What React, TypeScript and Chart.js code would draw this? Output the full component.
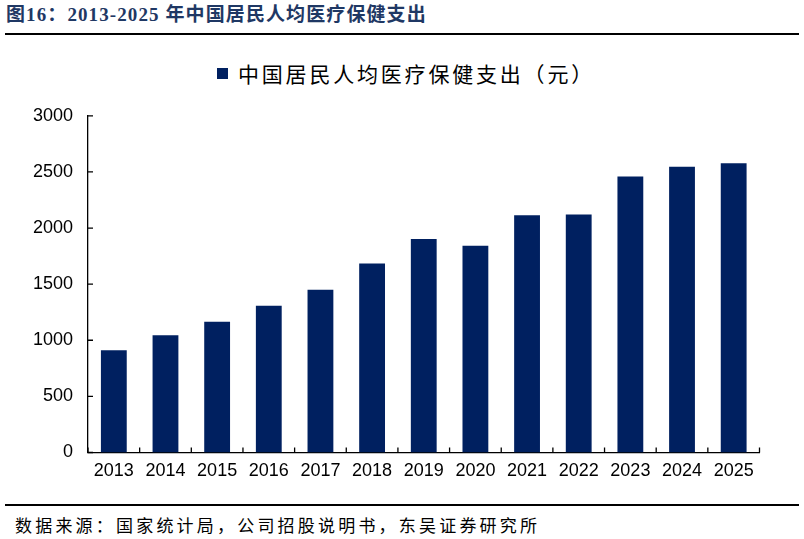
import { useEffect, useRef } from "react";
import { Chart, registerables } from "chart.js";

Chart.register(...registerables);

// Per-capita health care spending of Chinese residents, yuan
const years = ["2013", "2014", "2015", "2016", "2017", "2018", "2019", "2020", "2021", "2022", "2023", "2024", "2025"];
const healthSpending = [912, 1045, 1165, 1307, 1451, 1685, 1902, 1843, 2115, 2120, 2460, 2547, 2577];
const yTickValues = [0, 500, 1000, 1500, 2000, 2500, 3000];

const titleText = "图16：2013-2025 年中国居民人均医疗保健支出";
const seriesName = "中国居民人均医疗保健支出（元）";
const sourceText = "数据来源：国家统计局，公司招股说明书，东吴证券研究所";

const BAR_COLOR = "#002060";
const AXIS_FONT = '"Liberation Sans", Arial, sans-serif';
const CJK_FONT = '"Noto Sans CJK SC", "Noto Sans", sans-serif';

// Short tick marks pointing into the plot area, on both axes
const inwardTicks = {
  id: "inwardTicks",
  afterDraw(chart: any) {
    const { ctx, scales } = chart;
    const x = scales.x;
    const y = scales.y;
    ctx.save();
    ctx.strokeStyle = "#000";
    ctx.lineWidth = 1.3;
    ctx.beginPath();
    yTickValues.forEach((v) => {
      const py = y.getPixelForValue(v);
      ctx.moveTo(x.left, py);
      ctx.lineTo(x.left + 5, py);
    });
    const step = x.getPixelForValue(1) - x.getPixelForValue(0);
    const start = x.getPixelForValue(0) - step / 2;
    for (let i = 0; i <= years.length; i++) {
      const px = start + i * step;
      ctx.moveTo(px, y.bottom);
      ctx.lineTo(px, y.bottom - 5);
    }
    ctx.stroke();
    ctx.restore();
  },
};

function SpendingChart() {
  const canvasRef = useRef<HTMLCanvasElement | null>(null);

  useEffect(() => {
    const canvas = canvasRef.current;
    if (!canvas) return;
    const chart = new Chart(canvas, {
      type: "bar",
      data: {
        labels: years,
        datasets: [
          {
            label: seriesName,
            data: healthSpending,
            backgroundColor: BAR_COLOR,
            borderWidth: 0,
            categoryPercentage: 0.5,
            barPercentage: 1,
          },
        ],
      },
      options: {
        animation: false,
        responsive: false,
        devicePixelRatio: 1,
        layout: { padding: { top: 24.7, right: 44.5, left: 0, bottom: 0 } },
        plugins: {
          legend: { display: false },
          tooltip: { enabled: false },
        },
        scales: {
          x: {
            type: "category",
            grid: { display: false, drawTicks: false },
            border: { display: true, color: "#000", width: 1.3 },
            ticks: {
              color: "#000",
              font: { family: AXIS_FONT, size: 18 },
              padding: 8,
              maxRotation: 0,
              autoSkip: false,
            },
            afterFit: (scale: any) => {
              scale.height = 37.5;
            },
          },
          y: {
            min: 0,
            max: 3000,
            grid: { display: false, drawTicks: false },
            border: { display: true, color: "#000", width: 1.3 },
            ticks: {
              stepSize: 500,
              color: "#000",
              font: { family: AXIS_FONT, size: 18 },
              padding: 15,
              callback: (value: any) => String(value),
            },
            afterFit: (scale: any) => {
              scale.width = 88;
            },
          },
        },
      },
      plugins: [inwardTicks],
    });
    return () => chart.destroy();
  }, []);

  return <canvas ref={canvasRef} width={804} height={400} style={{ width: 804, height: 400, display: "block" }} />;
}

export default function App() {
  return (
    <div
      style={{
        position: "absolute",
        left: 0,
        top: 0,
        width: 804,
        height: 539,
        background: "#fff",
        overflow: "hidden",
      }}
    >
      <div
        style={{
          position: "absolute",
          left: 6,
          top: 4,
          fontFamily: '"Liberation Serif", "Times New Roman", ' + CJK_FONT,
          fontWeight: 700,
          fontSize: 19,
          lineHeight: "22px",
          letterSpacing: "1.1px",
          color: "#1F3864",
          whiteSpace: "nowrap",
        }}
      >
        {titleText}
      </div>
      <div style={{ position: "absolute", left: 5, top: 33, width: 794, height: 2, background: "#000" }} />

      <div
        style={{
          position: "absolute",
          left: 217,
          top: 62,
          height: 23,
          display: "flex",
          alignItems: "center",
          whiteSpace: "nowrap",
        }}
      >
        <span style={{ display: "inline-block", width: 11, height: 11, background: BAR_COLOR }} />
        <span
          style={{
            marginLeft: 10,
            fontFamily: CJK_FONT,
            fontSize: 21,
            lineHeight: "23px",
            letterSpacing: "2.8px",
            color: "#000",
          }}
        >
          {seriesName}
        </span>
      </div>

      <div style={{ position: "absolute", left: 0, top: 90, width: 804, height: 400 }}>
        <SpendingChart />
      </div>

      <div style={{ position: "absolute", left: 5, top: 504, width: 794, height: 2, background: "#000" }} />
      <div
        style={{
          position: "absolute",
          left: 15,
          top: 515,
          fontFamily: CJK_FONT,
          fontSize: 17,
          lineHeight: "20px",
          letterSpacing: "3.2px",
          color: "#000",
          whiteSpace: "nowrap",
        }}
      >
        {sourceText}
      </div>
    </div>
  );
}
